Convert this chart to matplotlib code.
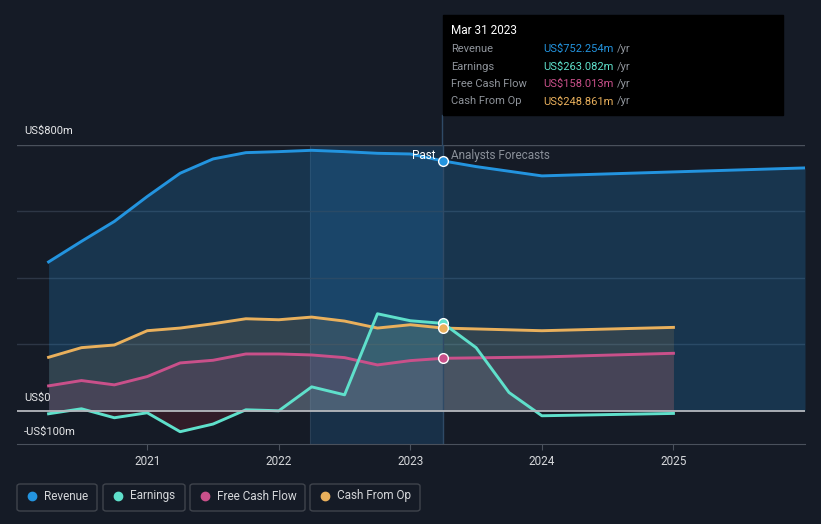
import numpy as np
import matplotlib
matplotlib.use("Agg")
from matplotlib import pyplot as plt
from matplotlib.patches import FancyBboxPatch, Rectangle

plt.rcParams["font.family"] = ["Roboto", "DejaVu Sans"]

# quarterly TTM values (US$m)
past_t = [2020.25, 2020.5, 2020.75, 2021.0, 2021.25, 2021.5, 2021.75,
          2022.0, 2022.25, 2022.5, 2022.75, 2023.0, 2023.25]
revenue = [448, 510, 570, 645, 715, 758, 777, 780, 784, 780, 775, 773, 752]
earnings = [-9, 6, -21, -6, -63, -40, 3, 0, 72, 48, 292, 271, 263]
fcf = [75, 91, 78, 103, 144, 152, 171, 171, 168, 160, 138, 151, 158]
cfo = [161, 190, 198, 241, 249, 262, 277, 274, 282, 270, 249, 259, 249]

rev_fc_t = [2023.25, 2023.5, 2024.0, 2025.0, 2026.0]
rev_fc = [752, 735, 707, 719, 731]
earn_fc_t = [2023.25, 2023.5, 2023.75, 2024.0, 2025.0]
earn_fc = [263, 190, 55, -15, -8]
fcf_fc_t = [2023.25, 2024.0, 2025.0]
fcf_fc = [158, 162, 173]
cfo_fc_t = [2023.25, 2024.0, 2025.0]
cfo_fc = [249, 241, 251]

year_ticks = [2021, 2022, 2023, 2024, 2025]

BG = "#151b26"
C_REV = "#2394df"
C_EARN = "#5fe0cb"
C_FCF = "#c9508a"
C_CFO = "#e9b05c"

fig = plt.figure(figsize=(8.21, 5.24), dpi=100, facecolor=BG)
ax = fig.add_axes([17 / 821, 1 - 444 / 524, 788 / 821, 299 / 524])
ax.set_facecolor(BG)
ax.set_xlim(2020.01, 2026.0)
ax.set_ylim(-100, 800)

# past highlight band
ax.axvspan(2022.24, 2023.25, color="#1f5a8a", alpha=0.35, lw=0, zorder=0)
ax.axvline(2022.24, color="#2a3f55", lw=0.8, zorder=0.5)

for yv in [200, 400, 600]:
    ax.axhline(yv, color="#2d3645", lw=1, zorder=0.6)
ax.axhline(800, color="#4a515c", lw=1, zorder=0.6)

series = [
    (past_t, revenue, rev_fc_t, rev_fc, C_REV, 0.22),
    (past_t, cfo, cfo_fc_t, cfo_fc, C_CFO, 0.12),
    (past_t, fcf, fcf_fc_t, fcf_fc, C_FCF, 0.14),
    (past_t, earnings, earn_fc_t, earn_fc, C_EARN, 0.10),
]
for t, v, tf, vf, c, a in series:
    tt = np.array(t + tf[1:])
    vv = np.array(v + vf[1:], dtype=float)
    ax.fill_between(tt, 0, vv, where=vv >= 0, interpolate=True,
                    color=c, alpha=a, lw=0, zorder=1)
    ax.plot(tt, vv, color=c, lw=2.1, zorder=3, solid_joinstyle="round")

# earnings below zero tinted red
et = np.array(past_t + earn_fc_t[1:])
ev = np.array(earnings + earn_fc[1:], dtype=float)
ax.fill_between(et, 0, ev, where=(ev < 0) & (et < 2023), interpolate=True,
                color="#6b1f2e", alpha=0.35, lw=0, zorder=1)

ax.axhline(0, color="#b5b8bd", lw=1.3, zorder=4)
ax.axvline(2023.25, ymin=0, ymax=1, color="#2f4a66", lw=1, zorder=2)

for val, c in [(revenue[-1], C_REV), (earnings[-1], C_EARN),
               (cfo[-1], C_CFO), (fcf[-1], C_FCF)]:
    ax.plot(2023.25, val, "o", ms=7, color=c, mec="white", mew=1, zorder=5)

ax.text(2023.19, 767, "Past", color="white", fontsize=8.5, ha="right",
        va="center", zorder=6)
ax.text(2023.31, 767, "Analysts Forecasts", color="#8a9099", fontsize=8.5,
        ha="left", va="center", zorder=6)

for s in ["top", "right", "left"]:
    ax.spines[s].set_visible(False)
ax.spines["bottom"].set_color("#4a515c")
ax.set_yticks([])
ax.set_xticks(year_ticks)
ax.set_xticklabels([str(y) for y in year_ticks])
ax.tick_params(axis="x", colors="#4a515c", length=4, labelcolor="#d5d7da",
               labelsize=8.5, pad=4)

# y labels (pixel rows from the top)
for ypix, lab in [(131, "US$800m"), (398, "US$0"), (432, "-US$100m")]:
    fig.text(24 / 821, 1 - ypix / 524, lab, color="#e6e7e9", fontsize=8,
             va="center", ha="left")

# tooltip
fig.patches.append(Rectangle((443 / 821, 1 - 115 / 524), 340 / 821, 100 / 524,
                             transform=fig.transFigure, color="black", zorder=5))
fig.lines.append(plt.Line2D([442 / 821, 442 / 821], [1 - 115 / 524, 1 - 145 / 524],
                            transform=fig.transFigure, color="#2f4a66", lw=1))
fig.text(451 / 821, 1 - 31 / 524, "Mar 31 2023", color="white", fontsize=8.5,
         va="center", zorder=6)
rows = [("Revenue", "US$752.254m", C_REV), ("Earnings", "US$263.082m", C_EARN),
        ("Free Cash Flow", "US$158.013m", C_FCF), ("Cash From Op", "US$248.861m", C_CFO)]
for i, (lab, val, c) in enumerate(rows):
    y = 49 + i * 17.5
    fig.text(451 / 821, 1 - y / 524, lab, color="#8f949b", fontsize=8,
             va="center", zorder=6)
    fig.text(543 / 821, 1 - y / 524, val, color=c, fontsize=8,
             va="center", zorder=6)
    fig.text(617 / 821, 1 - y / 524, "/yr", color="#8f949b", fontsize=8,
             va="center", zorder=6)
    fig.lines.append(plt.Line2D([448 / 821, 775 / 821],
                                [1 - (y - 8.5) / 524] * 2,
                                transform=fig.transFigure, color="#3a3d42", lw=0.8))
fig.lines.append(plt.Line2D([448 / 821, 775 / 821], [1 - 111 / 524] * 2,
                            transform=fig.transFigure, color="#3a3d42", lw=0.8))

# legend boxes
legend = [("Revenue", C_REV, 17, 80), ("Earnings", C_EARN, 103, 82),
          ("Free Cash Flow", C_FCF, 190, 115), ("Cash From Op", C_CFO, 310, 110)]
for lab, c, x0, w in legend:
    fig.patches.append(FancyBboxPatch((x0 / 821, 1 - 511 / 524), w / 821, 27 / 524,
                                      boxstyle="round,pad=0,rounding_size=0.004",
                                      transform=fig.transFigure, fc="none",
                                      ec="#3f444c", lw=1))
    fig.lines.append(plt.Line2D([(x0 + 15) / 821], [1 - 496 / 524], marker="o",
                                ms=6, color=c, transform=fig.transFigure))
    fig.text((x0 + 27) / 821, 1 - 496 / 524, lab, color="#d5d7da", fontsize=8.5,
             va="center")

fig.savefig("out.png", dpi=100, facecolor=BG)
